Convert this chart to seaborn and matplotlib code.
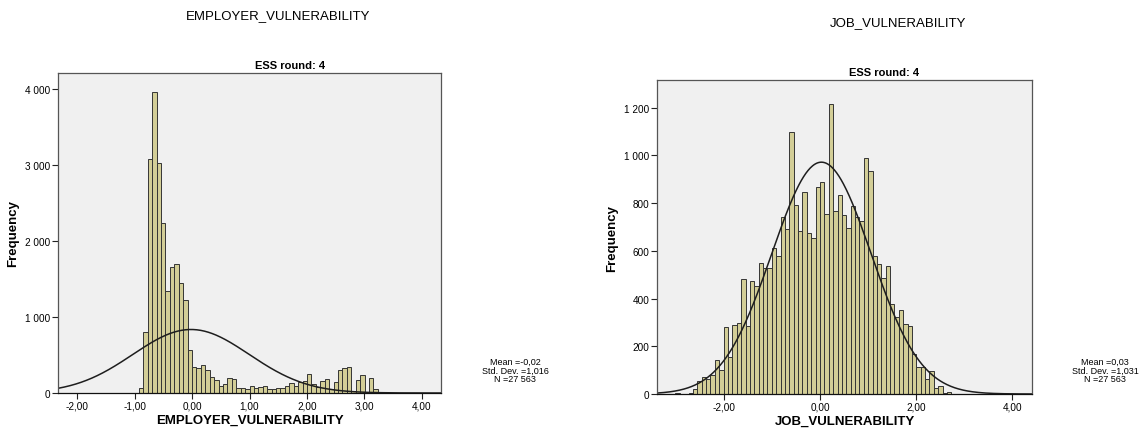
import numpy as np
import pandas as pd
import seaborn as sns
import matplotlib
matplotlib.use("Agg")
import matplotlib.pyplot as plt

# EMPLOYER_VULNERABILITY: Balkenhoehen von links nach rechts
emp_counts = [66, 802, 3079, 3955, 3022, 2238, 1348, 1656, 1695, 1445, 1230, 560,
              342, 328, 372, 297, 210, 166, 92, 118, 197, 179, 66, 66, 55, 92,
              66, 79, 92, 57, 48, 66, 66, 88, 132, 92, 145, 162, 254, 114, 79,
              162, 189, 57, 140, 303, 329, 342, 22, 175, 237, 9, 197, 53, 4, 9]
emp_first_edge = -0.93
emp_bin_width = 0.0772
emp_mean, emp_sd, emp_n = -0.02, 1.016, 27563

# JOB_VULNERABILITY
job_counts = [4, 0, 2, 3,
              22, 53, 73, 64, 80, 143, 101,
              281, 155, 288, 299, 484, 285, 474, 453, 548, 526, 526, 610, 578, 740, 690, 1096,
              794, 683, 846, 674, 652, 866, 890, 754, 1214, 768, 834, 752, 695, 789, 743, 726,
              990, 934, 578, 545, 487, 536, 379, 323, 354, 295, 285, 169, 113, 113, 64, 95,
              25, 34, 4, 7]
job_bin_width = 0.0911
job_first_edge = -33 * job_bin_width
job_mean, job_sd, job_n = 0.03, 1.031, 27563

emp_xticks = [-2, -1, 0, 1, 2, 3, 4]
emp_xlabels = ["-2,00", "-1,00", "0,00", "1,00", "2,00", "3,00", "4,00"]
emp_yticks = [0, 1000, 2000, 3000, 4000]
emp_ylabels = ["0", "1 000", "2 000", "3 000", "4 000"]
job_xticks = [-2, 0, 2, 4]
job_xlabels = ["-2,00", "0,00", "2,00", "4,00"]
job_yticks = [0, 200, 400, 600, 800, 1000, 1200]
job_ylabels = ["0", "200", "400", "600", "800", "1 000", "1 200"]

sns.set_style("ticks")
plt.rcParams["font.family"] = ["Liberation Sans", "DejaVu Sans"]
plt.rcParams["text.color"] = "black"
plt.rcParams["axes.labelcolor"] = "black"
plt.rcParams["xtick.color"] = "black"
plt.rcParams["ytick.color"] = "black"

bar_color = "#d3ce97"
edge_color = "#353535"

fig = plt.figure(figsize=(11.46, 4.39), dpi=100)
fig.patch.set_facecolor("white")


def histogramm(ax, counts, first_edge, bw, mean, sd, n, xlim, ylim,
               xticks, xlabels, yticks, ylabels, xlabel):
    k = len(counts)
    mitten = first_edge + bw * (np.arange(k) + 0.5)
    df = pd.DataFrame({"wert": mitten, "anzahl": counts})
    sns.histplot(data=df, x="wert", weights="anzahl", bins=k,
                 binrange=(first_edge, first_edge + k * bw), color=bar_color,
                 edgecolor=edge_color, linewidth=0.7, alpha=1, ax=ax)
    xs = np.linspace(xlim[0], xlim[1], 500)
    ys = n * bw / (sd * np.sqrt(2 * np.pi)) * np.exp(-0.5 * ((xs - mean) / sd) ** 2)
    sns.lineplot(x=xs, y=ys, color="#1e1e1e", linewidth=1.1, ax=ax)
    ax.set_facecolor("#f0f0f0")
    ax.set_xlim(xlim)
    ax.set_ylim(ylim)
    ax.set_xticks(xticks)
    ax.set_xticklabels(xlabels)
    ax.set_yticks(yticks)
    ax.set_yticklabels(ylabels)
    ax.tick_params(length=4, width=0.8, color="#222222", labelsize=7.2, pad=1.5)
    for s in ax.spines.values():
        s.set_visible(True)
        s.set_color("#555555")
        s.set_linewidth(0.9)
    ax.spines["bottom"].set_color("#111111")
    ax.set_xlabel(xlabel, fontsize=9.5, fontweight="bold", labelpad=2)
    ax.set_ylabel("Frequency", fontsize=9.5, fontweight="bold", labelpad=4)


ax1 = fig.add_axes([58 / 1146, 1 - 394 / 439, 383 / 1146, 320 / 439])
histogramm(ax1, emp_counts, emp_first_edge, emp_bin_width, emp_mean, emp_sd, emp_n,
           (-2.34, 4.34), (0, 4210), emp_xticks, emp_xlabels, emp_yticks, emp_ylabels,
           "EMPLOYER_VULNERABILITY")

ax2 = fig.add_axes([657 / 1146, 1 - 395 / 439, 375 / 1146, 314 / 439])
histogramm(ax2, job_counts, job_first_edge, job_bin_width, job_mean, job_sd, job_n,
           (-3.39, 4.41), (0, 1316), job_xticks, job_xlabels, job_yticks, job_ylabels,
           "JOB_VULNERABILITY")

fig.text(278 / 1146, 1 - 16 / 439, "EMPLOYER_VULNERABILITY", fontsize=9.5,
         ha="center", va="center")
fig.text(898 / 1146, 1 - 23 / 439, "JOB_VULNERABILITY", fontsize=9.5,
         ha="center", va="center")
fig.text(290 / 1146, 1 - 66 / 439, "ESS round: 4", fontsize=8, fontweight="bold",
         ha="center", va="center")
fig.text(884 / 1146, 1 - 73 / 439, "ESS round: 4", fontsize=8, fontweight="bold",
         ha="center", va="center")

fig.text(515 / 1146, 1 - 371 / 439, "Mean =-0,02\nStd. Dev. =1,016\nN =27 563",
         fontsize=6.5, ha="center", va="center", linespacing=0.9)
fig.text(1105 / 1146, 1 - 371 / 439, "Mean =0,03\nStd. Dev. =1,031\nN =27 563",
         fontsize=6.5, ha="center", va="center", linespacing=0.9)

fig.savefig("out.png", dpi=100)
